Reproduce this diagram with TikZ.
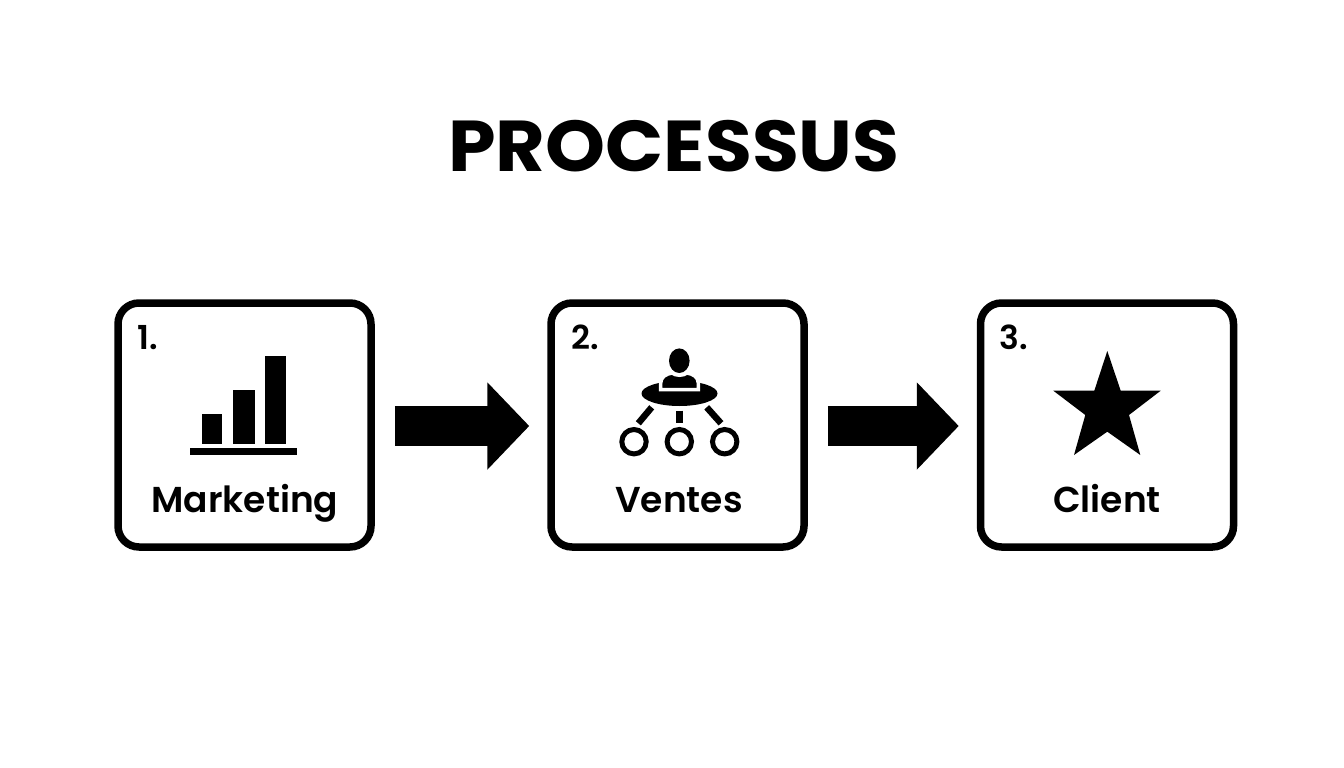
\documentclass[tikz,border=0pt]{standalone}
\usepackage{fontspec}
\usetikzlibrary{arrows.meta}
\setmainfont{Poppins}[BoldFont={Poppins SemiBold}]
\newfontfamily\titlefont{Poppins}[UprightFont={* Bold}]
\tikzset{
 box/.style={draw=black,line width=7.5pt,rounded corners=21pt,fill=white,minimum width=253pt,minimum height=244pt,inner sep=0pt},
 num/.style={font=\fontsize{33}{33}\selectfont\bfseries,inner sep=0pt,anchor=base},
 lab/.style={font=\fontsize{36}{36}\selectfont\bfseries,inner sep=0pt,anchor=base},
 flow/.style={draw=black,line width=40pt,-{Triangle[length=42pt,width=85pt]},transform canvas={yshift=-1pt}},
 link/.style={line width=6.5pt},
 ring/.style={line width=5pt}}
\begin{document}
\begin{tikzpicture}[x=1pt,y=-1pt]
\useasboundingbox[fill=white] (0,0) rectangle (1344,768);
\node[inner sep=0pt,anchor=base,font=\fontsize{72}{72}\titlefont,xscale=1.06] (title) at (674,171) {PROCESSUS};
\node[box] (b1) at (244.5,425) {};
\node[box] (b2) at (677.5,425) {};
\node[box] (b3) at (1107,425) {};
\node[num] (n1) at (148,349) {1.};
\node[num] (n2) at (585.5,349) {2.};
\node[num] (n3) at (1014,349) {3.};
\node[lab] (l1) at (245,512) {Marketing};
\node[lab] (l2) at (679,512) {Ventes};
\node[lab] (l3) at (1107,512) {Client};
% bars
\fill (201.7,414) rectangle (222.3,443.5);
\fill (233.3,390) rectangle (254.7,443.5);
\fill (265.3,355.7) rectangle (286.3,443.5);
\fill (189.7,447.7) rectangle (297.3,455.3);
% arrows
\draw[flow,shorten <=20pt,shorten >=18pt] (b1) -- (b2);
\draw[flow,shorten <=20pt,shorten >=18pt] (b2) -- (b3);
% star
\fill (1107.3,351) -- (1120.7,390.7) -- (1160.7,390.7) -- (1129,415) -- (1140.3,455) -- (1107.3,431.7) -- (1074,455) -- (1085.3,415) -- (1053.3,390.7) -- (1094.3,390.7) -- cycle;
% people
\fill (679.5,393.5) ellipse (38 and 12.5);
\draw[white,line width=3.5pt,fill=black] (660.7,389.5) -- (660.7,383) .. controls (660.7,377) and (666,374) .. (672,373) .. controls (676,376) and (683,376) .. (687,373) .. controls (693,374) and (698.3,377) .. (698.3,383) -- (698.3,389.5) -- cycle;
\fill (679.3,360.7) ellipse (10.3 and 12.3);
\draw[link] (651.7,407.3) -- (638.3,423.3);
\draw[link] (679.3,410.7) -- (679.3,423.3);
\draw[link] (706.7,407.3) -- (721,423.3);
\draw[ring] (634,441.7) circle (12.2);
\draw[ring] (679.3,441.7) circle (12.2);
\draw[ring] (724.7,441.7) circle (12.2);
\end{tikzpicture}
\end{document}
